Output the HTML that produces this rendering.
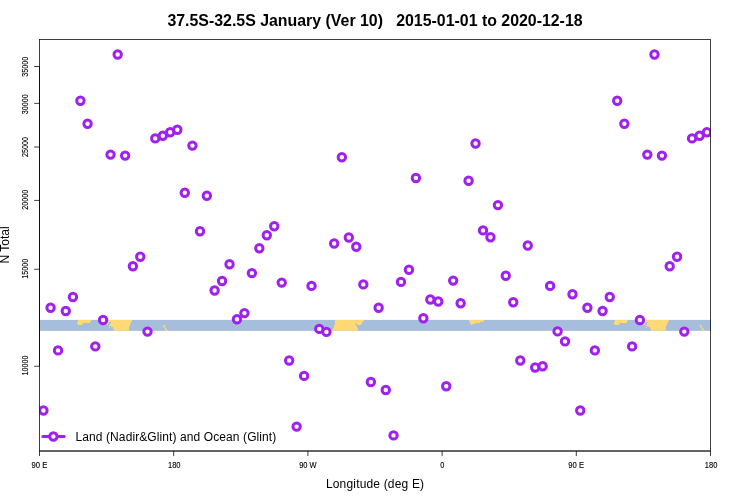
<!DOCTYPE html>
<html lang="en"><head><meta charset="utf-8"><title>37.5S-32.5S January</title>
<style>html,body{margin:0;padding:0;background:#fff;overflow:hidden}svg{display:block;will-change:transform}text{font-family:"Liberation Sans",Arial,Helvetica,sans-serif;fill:#000}</style></head><body>
<svg width="750" height="500" viewBox="0 0 750 500">
<rect width="750" height="500" fill="#fff"/>
<defs><clipPath id="pc"><rect x="39.5" y="39.5" width="671" height="411.5"/></clipPath></defs>
<text id="title" x="375" y="25.8" text-anchor="middle" font-size="15.9" font-weight="bold" style="white-space:pre">37.5S-32.5S January (Ver 10)   2015-01-01 to 2020-12-18</text>
<rect x="39" y="319.9" width="672" height="10.95" fill="#A6BDDB"/>
<g clip-path="url(#pc)">
<path fill="#FED976" d="M77.9 319.9H91.2V321H77.9ZM77.9 321H90.2V322H77.9ZM77.0 322H90.2V323H77.0ZM77.0 323H83.0V324H77.0ZM78.0 324H82.1V325H78.0ZM108.0 319.9H132.0V321H108.0ZM108.4 321H131.6V322H108.4ZM108.0 322H109.2V323H108.0ZM111.0 322H131.2V323H111.0ZM107.0 323H108.0V324H107.0ZM110.0 323H130.4V324H110.0ZM107.0 324H108.0V325H107.0ZM110.0 324H130.0V325H110.0ZM109.0 325H130.0V326H109.0ZM111.0 326H129.0V327H111.0ZM109.0 327H110.0V328H109.0ZM113.0 327H129.0V328H113.0ZM113.4 328H129.0V329H113.4ZM114.0 329H129.0V330H114.0ZM114.0 330H129.0V330.85H114.0ZM162.9 325H164.9V326H162.9ZM163.8 326H164.9V327H163.8ZM163.8 327H165.1V328H163.8ZM164.9 328H166.2V329H164.9ZM165.1 329H167.1V330H165.1ZM166.0 330H168.0V330.85H166.0ZM334.9 319.9H364.0V321H334.9ZM334.9 321H363.2V322H334.9ZM334.9 322H362.1V323H334.9ZM334.9 323H355.2V324H334.9ZM356.3 323H361.9V324H356.3ZM334.7 324H355.5V325H334.7ZM357.1 324H361.1V325H357.1ZM334.0 325H356.3V326H334.0ZM334.0 326H356.8V327H334.0ZM334.0 327H357.1V328H334.0ZM333.1 328H357.9V329H333.1ZM332.8 329H357.9V330H332.8ZM332.0 330H357.1V330.85H332.0ZM469.0 319.9H484.0V321H469.0ZM469.2 321H483.0V322H469.2ZM470.0 322H480.0V323H470.0ZM470.2 323H475.0V324H470.2ZM471.0 324H472.0V325H471.0ZM614.7 319.9H628.0V321H614.7ZM614.7 321H627.0V322H614.7ZM613.8 322H627.0V323H613.8ZM613.8 323H619.8V324H613.8ZM614.8 324H618.9V325H614.8ZM644.8 319.9H668.8V321H644.8ZM645.2 321H668.4V322H645.2ZM644.8 322H646.0V323H644.8ZM647.8 322H668.0V323H647.8ZM643.8 323H644.8V324H643.8ZM646.8 323H667.2V324H646.8ZM643.8 324H644.8V325H643.8ZM646.8 324H666.8V325H646.8ZM645.8 325H666.8V326H645.8ZM647.8 326H665.8V327H647.8ZM645.8 327H646.8V328H645.8ZM649.8 327H665.8V328H649.8ZM650.2 328H665.8V329H650.2ZM650.8 329H665.8V330H650.8ZM650.8 330H665.8V330.85H650.8ZM699.7 325H701.7V326H699.7ZM700.6 326H701.7V327H700.6ZM700.6 327H701.9V328H700.6ZM701.7 328H703.0V329H701.7ZM701.9 329H703.9V330H701.9ZM702.8 330H704.8V330.85H702.8Z"/>
<g fill="#fff" stroke="#A020F0" stroke-width="3.0">
<circle cx="43.43" cy="410.5" r="3.7"/>
<circle cx="50.58" cy="307.8" r="3.7"/>
<circle cx="58.04" cy="350.4" r="3.7"/>
<circle cx="65.79" cy="311.0" r="3.7"/>
<circle cx="72.95" cy="297.0" r="3.7"/>
<circle cx="80.41" cy="100.7" r="3.7"/>
<circle cx="87.56" cy="123.7" r="3.7"/>
<circle cx="95.32" cy="346.4" r="3.7"/>
<circle cx="103.07" cy="320.0" r="3.7"/>
<circle cx="110.53" cy="154.6" r="3.7"/>
<circle cx="117.68" cy="54.5" r="3.7"/>
<circle cx="125.14" cy="155.6" r="3.7"/>
<circle cx="132.89" cy="266.3" r="3.7"/>
<circle cx="140.25" cy="256.8" r="3.7"/>
<circle cx="147.51" cy="331.6" r="3.7"/>
<circle cx="155.26" cy="138.4" r="3.7"/>
<circle cx="162.82" cy="135.8" r="3.7"/>
<circle cx="170.17" cy="132.3" r="3.7"/>
<circle cx="177.33" cy="129.8" r="3.7"/>
<circle cx="184.78" cy="192.8" r="3.7"/>
<circle cx="192.44" cy="145.6" r="3.7"/>
<circle cx="199.99" cy="231.2" r="3.7"/>
<circle cx="206.85" cy="195.8" r="3.7"/>
<circle cx="214.61" cy="290.5" r="3.7"/>
<circle cx="222.06" cy="281.0" r="3.7"/>
<circle cx="229.52" cy="264.3" r="3.7"/>
<circle cx="236.97" cy="319.3" r="3.7"/>
<circle cx="244.43" cy="313.1" r="3.7"/>
<circle cx="251.88" cy="273.1" r="3.7"/>
<circle cx="259.34" cy="248.2" r="3.7"/>
<circle cx="266.79" cy="235.2" r="3.7"/>
<circle cx="274.25" cy="226.2" r="3.7"/>
<circle cx="281.71" cy="282.6" r="3.7"/>
<circle cx="289.16" cy="360.5" r="3.7"/>
<circle cx="296.62" cy="426.6" r="3.7"/>
<circle cx="304.07" cy="375.9" r="3.7"/>
<circle cx="311.53" cy="285.9" r="3.7"/>
<circle cx="319.28" cy="328.9" r="3.7"/>
<circle cx="326.44" cy="331.9" r="3.7"/>
<circle cx="334.19" cy="243.5" r="3.7"/>
<circle cx="341.85" cy="157.2" r="3.7"/>
<circle cx="348.81" cy="237.5" r="3.7"/>
<circle cx="356.26" cy="246.7" r="3.7"/>
<circle cx="363.32" cy="284.4" r="3.7"/>
<circle cx="370.87" cy="382.0" r="3.7"/>
<circle cx="378.63" cy="307.8" r="3.7"/>
<circle cx="385.78" cy="390.0" r="3.7"/>
<circle cx="393.54" cy="435.4" r="3.7"/>
<circle cx="400.99" cy="281.9" r="3.7"/>
<circle cx="408.95" cy="269.8" r="3.7"/>
<circle cx="415.91" cy="178.0" r="3.7"/>
<circle cx="423.36" cy="318.3" r="3.7"/>
<circle cx="430.32" cy="299.5" r="3.7"/>
<circle cx="438.27" cy="301.5" r="3.7"/>
<circle cx="446.23" cy="386.3" r="3.7"/>
<circle cx="453.18" cy="280.6" r="3.7"/>
<circle cx="460.64" cy="303.3" r="3.7"/>
<circle cx="468.59" cy="180.8" r="3.7"/>
<circle cx="475.55" cy="143.5" r="3.7"/>
<circle cx="483.01" cy="230.4" r="3.7"/>
<circle cx="490.46" cy="237.2" r="3.7"/>
<circle cx="497.92" cy="205.1" r="3.7"/>
<circle cx="505.77" cy="275.8" r="3.7"/>
<circle cx="513.23" cy="302.3" r="3.7"/>
<circle cx="520.28" cy="360.5" r="3.7"/>
<circle cx="527.74" cy="245.5" r="3.7"/>
<circle cx="535.19" cy="367.5" r="3.7"/>
<circle cx="542.65" cy="366.2" r="3.7"/>
<circle cx="550.11" cy="285.9" r="3.7"/>
<circle cx="557.56" cy="331.4" r="3.7"/>
<circle cx="565.02" cy="341.4" r="3.7"/>
<circle cx="572.47" cy="294.3" r="3.7"/>
<circle cx="580.23" cy="410.5" r="3.7"/>
<circle cx="587.38" cy="307.8" r="3.7"/>
<circle cx="594.84" cy="350.4" r="3.7"/>
<circle cx="602.59" cy="311.0" r="3.7"/>
<circle cx="609.75" cy="297.0" r="3.7"/>
<circle cx="617.21" cy="100.7" r="3.7"/>
<circle cx="624.36" cy="123.7" r="3.7"/>
<circle cx="632.12" cy="346.4" r="3.7"/>
<circle cx="639.87" cy="320.0" r="3.7"/>
<circle cx="647.33" cy="154.6" r="3.7"/>
<circle cx="654.48" cy="54.5" r="3.7"/>
<circle cx="661.94" cy="155.6" r="3.7"/>
<circle cx="669.69" cy="266.3" r="3.7"/>
<circle cx="677.05" cy="256.8" r="3.7"/>
<circle cx="684.31" cy="331.6" r="3.7"/>
<circle cx="692.06" cy="138.4" r="3.7"/>
<circle cx="699.62" cy="135.8" r="3.7"/>
<circle cx="706.97" cy="132.3" r="3.7"/>
</g>
</g>
<line x1="42.8" y1="436.5" x2="64.2" y2="436.5" stroke="#A020F0" stroke-width="3.0" stroke-linecap="round"/>
<circle cx="53.4" cy="436.5" r="3.7" fill="#fff" stroke="#A020F0" stroke-width="3.0"/>
<text id="leg" x="75.5" y="440.8" font-size="12" textLength="200.8" lengthAdjust="spacing">Land (Nadir&amp;Glint) and Ocean (Glint)</text>
<g fill="none" stroke="#000" stroke-width="0.75">
<rect x="39.5" y="39.5" width="671" height="411.5"/>
<line x1="39.5" y1="451" x2="710.5" y2="451"/>
<line x1="39.50" y1="451" x2="39.50" y2="456.1"/>
<line x1="173.70" y1="451" x2="173.70" y2="456.1"/>
<line x1="307.90" y1="451" x2="307.90" y2="456.1"/>
<line x1="442.10" y1="451" x2="442.10" y2="456.1"/>
<line x1="576.30" y1="451" x2="576.30" y2="456.1"/>
<line x1="710.50" y1="451" x2="710.50" y2="456.1"/>
<line x1="39.5" y1="66.5" x2="39.5" y2="366.3"/>
<line x1="34.2" y1="366.29" x2="39.5" y2="366.29"/>
<line x1="34.2" y1="269.26" x2="39.5" y2="269.26"/>
<line x1="34.2" y1="200.42" x2="39.5" y2="200.42"/>
<line x1="34.2" y1="147.02" x2="39.5" y2="147.02"/>
<line x1="34.2" y1="103.39" x2="39.5" y2="103.39"/>
<line x1="34.2" y1="66.50" x2="39.5" y2="66.50"/>
</g>
<text class="xl" stroke="#000" stroke-width="0.12" x="39.4" y="467.6" font-size="8.4" text-anchor="middle" textLength="15.7" lengthAdjust="spacingAndGlyphs">90 E</text>
<text class="xl" stroke="#000" stroke-width="0.12" x="174.3" y="467.6" font-size="8.4" text-anchor="middle" textLength="12.5" lengthAdjust="spacingAndGlyphs">180</text>
<text class="xl" stroke="#000" stroke-width="0.12" x="307.9" y="467.6" font-size="8.4" text-anchor="middle" textLength="17.4" lengthAdjust="spacingAndGlyphs">90 W</text>
<text class="xl" stroke="#000" stroke-width="0.12" x="442.4" y="467.6" font-size="8.4" text-anchor="middle" textLength="4.1" lengthAdjust="spacingAndGlyphs">0</text>
<text class="xl" stroke="#000" stroke-width="0.12" x="576.2" y="467.6" font-size="8.4" text-anchor="middle" textLength="15.7" lengthAdjust="spacingAndGlyphs">90 E</text>
<text class="xl" stroke="#000" stroke-width="0.12" x="711.1" y="467.6" font-size="8.4" text-anchor="middle" textLength="12.5" lengthAdjust="spacingAndGlyphs">180</text>
<text class="yl" stroke="#000" stroke-width="0.12" transform="translate(28.1,365.59) rotate(-90)" font-size="8.5" text-anchor="middle" textLength="20.0" lengthAdjust="spacingAndGlyphs">10000</text>
<text class="yl" stroke="#000" stroke-width="0.12" transform="translate(28.1,268.66) rotate(-90)" font-size="8.5" text-anchor="middle" textLength="20.0" lengthAdjust="spacingAndGlyphs">15000</text>
<text class="yl" stroke="#000" stroke-width="0.12" transform="translate(28.1,199.87) rotate(-90)" font-size="8.5" text-anchor="middle" textLength="20.0" lengthAdjust="spacingAndGlyphs">20000</text>
<text class="yl" stroke="#000" stroke-width="0.12" transform="translate(28.1,146.97) rotate(-90)" font-size="8.5" text-anchor="middle" textLength="20.0" lengthAdjust="spacingAndGlyphs">25000</text>
<text class="yl" stroke="#000" stroke-width="0.12" transform="translate(28.1,104.14) rotate(-90)" font-size="8.5" text-anchor="middle" textLength="20.0" lengthAdjust="spacingAndGlyphs">30000</text>
<text class="yl" stroke="#000" stroke-width="0.12" transform="translate(28.1,66.80) rotate(-90)" font-size="8.5" text-anchor="middle" textLength="20.0" lengthAdjust="spacingAndGlyphs">35000</text>
<text id="xlab" x="375" y="487.8" font-size="12" text-anchor="middle" textLength="98.2" lengthAdjust="spacing">Longitude (deg E)</text>
<text id="ylab" transform="translate(9,245) rotate(-90)" font-size="12" text-anchor="middle">N Total</text>
</svg></body></html>
